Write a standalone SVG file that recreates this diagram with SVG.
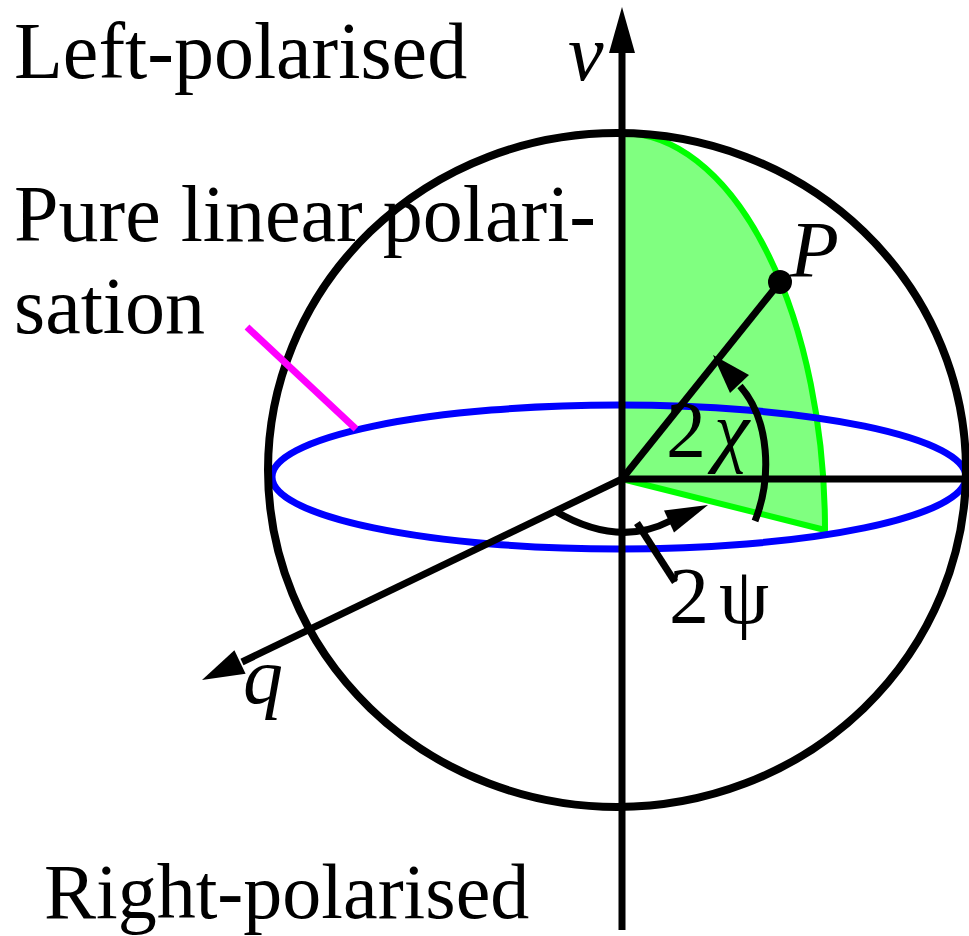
<svg xmlns="http://www.w3.org/2000/svg" width="969" height="936" viewBox="0 0 969 936">
<style>
.txt{font-family:"Liberation Serif","Times New Roman",serif;font-size:80px;fill:#000}
.it{font-style:italic}
.ln{stroke:#000;stroke-width:7;fill:none}
.head{fill:#000;stroke:none}
</style>
<rect width="969" height="936" fill="#fff"/>
<g id="sector">
<path d="M622 133 A203 397 0 0 1 825 530 L622 479 Z" fill="#80ff80" stroke="#00ff00" stroke-width="6" stroke-linejoin="round"/>
</g>
<g id="equator">
<ellipse cx="619" cy="477" rx="347" ry="72" fill="none" stroke="#0000ff" stroke-width="7"/>
</g>
<g id="sphere">
<ellipse cx="617" cy="470" rx="349" ry="337" fill="none" stroke="#000" stroke-width="8"/>
</g>
<g id="connectors">
<line class="ln" x1="622" y1="930" x2="622" y2="48"/>
<polygon class="head" points="622,7 635,53 609,53"/>
<line class="ln" x1="622" y1="479" x2="969" y2="479"/>
<line class="ln" x1="622" y1="479" x2="242" y2="662"/>
<polygon class="head" points="202,680 234.4,650.3 245.6,673.7"/>
<line class="ln" x1="622" y1="479" x2="780" y2="282"/>
<path class="ln" d="M755 521 C772 478 770 420 740 386"/>
<polygon class="head" points="713,355 749,375 730,393"/>
<path class="ln" d="M555 511 Q618 548 670 521"/>
<polygon class="head" points="708,505 664,510.5 674,532.5"/>
<line class="ln" x1="637" y1="523" x2="675" y2="582"/>
<line x1="247" y1="327" x2="356" y2="429" stroke="#ff00ff" stroke-width="7"/>
</g>
<g id="point-P">
<circle cx="780" cy="282" r="12" fill="#000"/>
<text class="txt it" x="790" y="277">P</text>
</g>
<g id="labels">
<text class="txt" x="14" y="78">Left-polarised</text>
<text class="txt" x="14" y="241">Pure linear polari-</text>
<text class="txt" x="14" y="333">sation</text>
<text class="txt" x="44" y="918" style="font-size:78px">Right-polarised</text>
<text class="txt it" x="568" y="80">v</text>
<text class="txt it" x="243" y="703">q</text>
<text class="txt" x="666" y="457">2<tspan dx="8" font-style="italic">χ</tspan></text>
<text class="txt" x="669" y="623">2<tspan dx="10">ψ</tspan></text>
</g>
</svg>
